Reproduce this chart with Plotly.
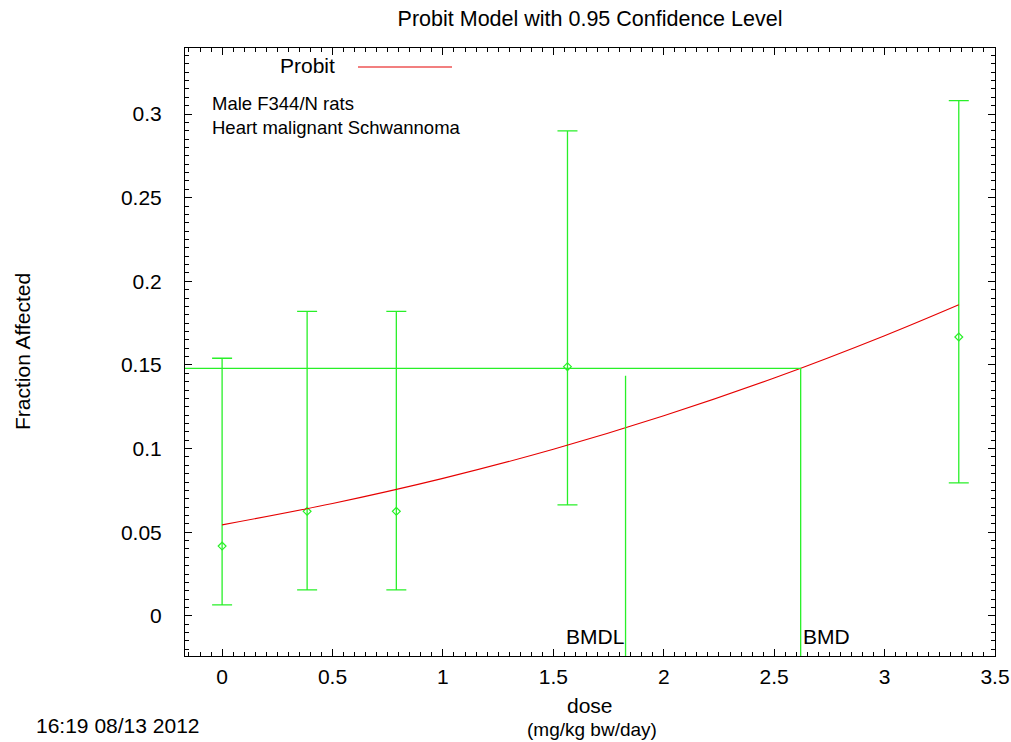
import plotly.graph_objects as go

# ---------- Data ----------
doses = [0.0, 0.385, 0.789, 1.564, 3.336]
observed = [0.0417, 0.0625, 0.0625, 0.149, 0.1667]
ci_lower = [0.0066, 0.0155, 0.0155, 0.0663, 0.0795]
ci_upper = [0.154, 0.182, 0.182, 0.290, 0.308]

# fitted probit curve, read at a few doses
curve_dose = [0.0, 0.5, 1.0, 1.5, 2.0, 2.5, 3.0, 3.336]
curve_resp = [0.0544, 0.0672, 0.0822, 0.0996, 0.1196, 0.1422, 0.1675, 0.186]

BMD = 2.62
BMDL = 1.827
BMR_RESPONSE = 0.148
BMDL_TOP = 0.1435

X_RANGE = [-0.168, 3.5]
Y_RANGE = [-0.024, 0.3395]

X_TICKS = [0, 0.5, 1, 1.5, 2, 2.5, 3, 3.5]
X_TICKTEXT = ["0", "0.5", "1", "1.5", "2", "2.5", "3", "3.5"]
Y_TICKS = [0, 0.05, 0.1, 0.15, 0.2, 0.25, 0.3]
Y_TICKTEXT = ["0", "0.05", "0.1", "0.15", "0.2", "0.25", "0.3"]

GREEN = "rgb(40,240,40)"
RED = "rgb(230,0,0)"
FONT = "Liberation Sans, Arial, sans-serif"

# ---------- Figure ----------
fig = go.Figure()

# observed data with confidence bars
fig.add_trace(go.Scatter(
    x=doses, y=observed, mode="markers",
    marker=dict(symbol="diamond-open", size=6, color=GREEN, line=dict(width=1.2)),
    error_y=dict(type="data", symmetric=False,
                 array=[u - o for u, o in zip(ci_upper, observed)],
                 arrayminus=[o - l for o, l in zip(observed, ci_lower)],
                 color=GREEN, thickness=1.3, width=10),
    showlegend=False,
))

# probit fit
fig.add_trace(go.Scatter(
    x=curve_dose, y=curve_resp, mode="lines", line_shape="spline",
    line=dict(color=RED, width=1.1), showlegend=False,
))

# BMD / BMDL lines
fig.add_trace(go.Scatter(
    x=[X_RANGE[0], BMD, BMD], y=[BMR_RESPONSE, BMR_RESPONSE, Y_RANGE[0]],
    mode="lines", line=dict(color=GREEN, width=1.3), showlegend=False,
))
fig.add_trace(go.Scatter(
    x=[BMDL, BMDL], y=[BMDL_TOP, Y_RANGE[0]],
    mode="lines", line=dict(color=GREEN, width=1.3), showlegend=False,
))

axis_common = dict(
    showgrid=False, zeroline=False, showline=True, linecolor="black", linewidth=1,
    mirror="allticks", ticks="inside", ticklen=7, tickcolor="black", tickwidth=1,
    tickfont=dict(family=FONT, size=21, color="black"), automargin=False,
)

fig.update_xaxes(
    range=X_RANGE, tickvals=X_TICKS, ticktext=X_TICKTEXT,
    minor=dict(ticks="inside", dtick=0.05, tick0=0, ticklen=4, tickcolor="black"),
    ticklabelstandoff=2,
    **axis_common,
)
fig.update_yaxes(
    range=Y_RANGE, tickvals=Y_TICKS, ticktext=Y_TICKTEXT,
    minor=dict(ticks="inside", dtick=0.005, tick0=0, ticklen=4, tickcolor="black"),
    ticklabelstandoff=18,
    **axis_common,
)

annotations = [
    dict(text="Male F344/N rats", x=210, y=104),
    dict(text="Heart malignant Schwannoma", x=210, y=127),
]
anns = []
for a in annotations:
    anns.append(dict(text=a["text"], xref="paper", yref="paper",
                     x=(a["x"] - 185) / 810, y=(656 - a["y"]) / 608,
                     xanchor="left", yanchor="middle", showarrow=False,
                     font=dict(family=FONT, size=18.5, color="black")))

# legend label
anns.append(dict(text="Probit", xref="paper", yref="paper",
                 x=(337 - 185) / 810, y=(656 - 66) / 608,
                 xanchor="right", yanchor="middle", showarrow=False,
                 font=dict(family=FONT, size=21, color="black")))

# BMD / BMDL labels
anns.append(dict(text="BMDL", x=BMDL, y=0, xref="x", yref="paper",
                 xanchor="right", yanchor="bottom", yshift=6, showarrow=False,
                 font=dict(family=FONT, size=21, color="black")))
anns.append(dict(text="BMD", x=BMD, y=0, xref="x", yref="paper",
                 xanchor="left", yanchor="bottom", yshift=6, showarrow=False,
                 font=dict(family=FONT, size=21, color="black")))

# axis titles and timestamp
anns.append(dict(text="Fraction Affected", xref="paper", yref="paper",
                 x=-(185 - 22) / 810, y=(656 - 352) / 608, textangle=-90,
                 xanchor="center", yanchor="middle", showarrow=False,
                 font=dict(family=FONT, size=21, color="black")))
anns.append(dict(text="dose", xref="paper", yref="paper",
                 x=(590 - 185) / 810, y=-(705 - 656) / 608,
                 xanchor="center", yanchor="middle", showarrow=False,
                 font=dict(family=FONT, size=21, color="black")))
anns.append(dict(text="(mg/kg bw/day)", xref="paper", yref="paper",
                 x=(592 - 185) / 810, y=-(729 - 656) / 608,
                 xanchor="center", yanchor="middle", showarrow=False,
                 font=dict(family=FONT, size=19, color="black")))
anns.append(dict(text="16:19 08/13 2012", xref="paper", yref="paper",
                 x=-(185 - 118) / 810, y=-(725 - 656) / 608,
                 xanchor="center", yanchor="middle", showarrow=False,
                 font=dict(family=FONT, size=21, color="black")))

fig.update_layout(
    width=1011, height=742,
    paper_bgcolor="white", plot_bgcolor="white",
    margin=dict(l=185, r=16, t=48, b=86),
    title=dict(text="Probit Model with 0.95 Confidence Level",
               xref="container", yref="container", x=590 / 1011, y=1 - 18 / 742,
               xanchor="center", yanchor="middle",
               font=dict(family=FONT, size=21.5, color="black")),
    annotations=anns,
    shapes=[dict(type="line", xref="paper", yref="paper",
                 x0=(358 - 185) / 810, x1=(452 - 185) / 810,
                 y0=(656 - 67) / 608, y1=(656 - 67) / 608,
                 line=dict(color=RED, width=1.1))],
    showlegend=False,
)

# drop the page's default body margin so the figure sits at the window corner
fig.write_html("out.html",
               config={"displayModeBar": False},
               post_script="document.body.style.margin='0';"
                           "document.body.style.overflow='hidden';")
